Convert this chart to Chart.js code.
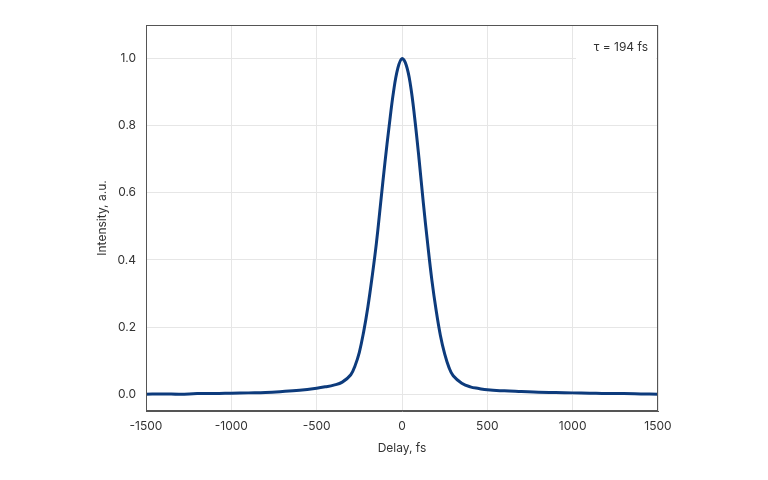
<!DOCTYPE html>
<html><head><meta charset="utf-8">
<script src="https://cdn.jsdelivr.net/npm/chart.js@4"></script>
<style>html,body{margin:0;padding:0;background:#fff}#w{width:768px;height:480px}</style>
</head><body><div id="w"><canvas id="c"></canvas></div>
<script>
const delays = [-1500,-1400,-1300,-1200,-1100,-1000,-900,-800,-700,-600,-500,-450,-400,-350,-300,-275,-250,-225,-200,-175,-150,-125,-100,-75,-50,-25,0,25,50,75,100,125,150,175,200,225,250,275,300,350,400,450,500,600,700,800,900,1000,1100,1200,1300,1400,1500];
const intensity = [0.0,0.001,0.0,0.002,0.002,0.003,0.004,0.005,0.008,0.012,0.018,0.022,0.027,0.036,0.058,0.085,0.125,0.185,0.26,0.35,0.45,0.57,0.69,0.80,0.90,0.97,1.0,0.98,0.92,0.82,0.70,0.57,0.45,0.34,0.25,0.175,0.12,0.08,0.055,0.033,0.022,0.017,0.013,0.010,0.008,0.006,0.005,0.004,0.003,0.002,0.002,0.001,0.0];
const xTicks = [-1500,-1000,-500,0,500,1000,1500];
const yTicks = [0,0.2,0.4,0.6,0.8,1.0];
const label = 'τ = 194 fs';
const xTitle = 'Delay, fs';
const yTitle = 'Intensity, a.u.';
const font = "Inter, 'Noto Sans', sans-serif";
const annot = {id:'annot', afterDatasetsDraw(ch){const c=ch.ctx,a=ch.chartArea;c.save();
c.strokeStyle='#555';c.lineWidth=1;c.strokeRect(a.left+0.5,a.top+0.5,a.right-a.left-1,a.bottom-a.top-1);
c.font='12px '+font;c.fillStyle='#fff';c.fillRect(a.right-82,a.top+10,80,24);c.fillStyle='#333';c.textAlign='right';c.textBaseline='middle';c.fillText(label,a.right-10,a.top+22);
c.textAlign='center';c.fillText(xTitle,(a.left+a.right)/2,448);
c.translate(102,(a.top+a.bottom)/2);c.rotate(-Math.PI/2);c.fillText(yTitle,0,0);
c.restore();}};
new Chart(document.getElementById('c'),{type:'line',
data:{datasets:[{data:delays.map((x,i)=>({x,y:intensity[i]})),borderColor:'#0d3b7c',borderWidth:3,pointRadius:0,tension:0.4,fill:false}]},
options:{responsive:true,maintainAspectRatio:false,animation:false,
layout:{padding:{top:25,right:110,left:0,bottom:0}},
plugins:{legend:{display:false},tooltip:{enabled:false}},
scales:{
x:{type:'linear',min:-1500,max:1500,afterBuildTicks(s){s.ticks=xTicks.map(v=>({value:v}));},afterFit(s){s.height=69;},
grid:{color:'#e6e6e6',drawTicks:false},border:{color:'#555',width:1},
ticks:{padding:8,color:'#333',font:{family:font,size:12},maxRotation:0,callback:v=>String(v)}},
y:{min:-0.05,max:1.1,afterBuildTicks(s){s.ticks=yTicks.map(v=>({value:v}));},afterFit(s){s.width=146;},
grid:{color:'#e6e6e6',drawTicks:false},border:{color:'#555',width:1},
ticks:{padding:10,color:'#333',font:{family:font,size:12},callback:v=>v.toFixed(1)}}
}},plugins:[annot]});
</script></body></html>
